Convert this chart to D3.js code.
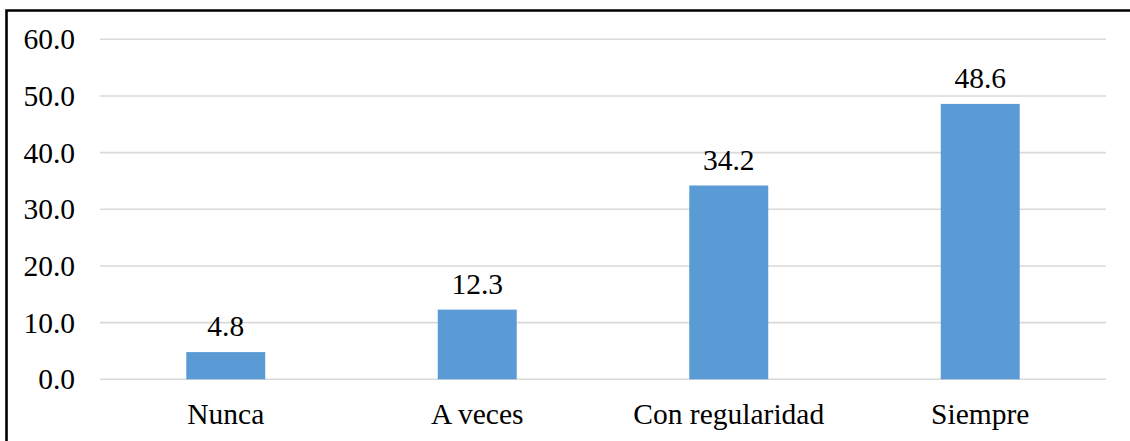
<!DOCTYPE html>
<html><head><meta charset="utf-8">
<script src="https://cdn.jsdelivr.net/npm/d3@7"></script>
<style>html,body{margin:0;padding:0;background:#fff;}svg{display:block;}</style>
</head><body>
<svg id="chart" width="1130" height="441"></svg>
<script>
const categories = ["Nunca", "A veces", "Con regularidad", "Siempre"];
const values = [4.8, 12.3, 34.2, 48.6];
const yTicks = [0, 10, 20, 30, 40, 50, 60];

(function () {
const svg = d3.select("#chart");
const font = "'Liberation Serif','Times New Roman',serif";
const fs = 29.5;
const plotLeft = 100, plotRight = 1106, plotTop = 39.3, plotBottom = 379.3;

const x = d3.scaleBand().domain(categories).range([plotLeft, plotRight]).paddingInner(0).paddingOuter(0);
const y = d3.scaleLinear().domain([0, 60]).range([plotBottom, plotTop]);

// border
svg.append("path")
  .attr("d", `M6.5,441 L6.5,10.5 L1130,10.5`)
  .attr("fill", "none").attr("stroke", "#000").attr("stroke-width", 2.6);

// gridlines
svg.append("g").selectAll("line").data(yTicks).join("line")
  .attr("x1", plotLeft).attr("x2", plotRight)
  .attr("y1", d => y(d)).attr("y2", d => y(d))
  .attr("stroke", "#d9d9d9").attr("stroke-width", 1.6);

// y labels
svg.append("g").selectAll("text").data(yTicks).join("text")
  .attr("x", 75).attr("y", d => y(d) + 10)
  .attr("text-anchor", "end")
  .attr("font-family", font).attr("font-size", fs).attr("fill", "#000")
  .text(d => d.toFixed(1));

const bw = x.bandwidth() * 0.314;
svg.append("g").selectAll("rect").data(values).join("rect")
  .attr("x", (d, i) => x(categories[i]) + x.bandwidth() / 2 - bw / 2)
  .attr("width", bw)
  .attr("y", d => y(d))
  .attr("height", d => y(0) - y(d))
  .attr("fill", "#5B9BD5");

// value labels
svg.append("g").selectAll("text").data(values).join("text")
  .attr("x", (d, i) => x(categories[i]) + x.bandwidth() / 2)
  .attr("y", d => y(d) - 16)
  .attr("text-anchor", "middle")
  .attr("font-family", font).attr("font-size", fs).attr("fill", "#000")
  .text(d => d.toFixed(1));

// x labels
svg.append("g").selectAll("text").data(categories).join("text")
  .attr("x", d => x(d) + x.bandwidth() / 2)
  .attr("y", 424)
  .attr("text-anchor", "middle")
  .attr("font-family", font).attr("font-size", fs).attr("fill", "#000")
  .text(d => d);
})();
</script>
</body></html>
